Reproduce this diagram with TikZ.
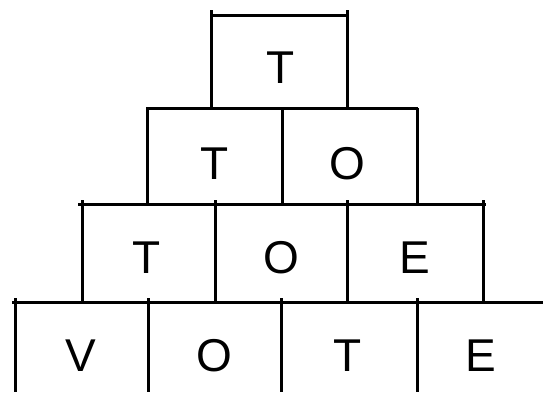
\documentclass[tikz,border=0pt]{standalone}
\usepackage{fontspec}
\setmainfont{Liberation Sans}
\begin{document}
\begin{tikzpicture}[x=1pt,y=-1pt,
  edge/.style={line width=3pt, black},
  letter/.style={font=\fontsize{46}{46}\selectfont, inner sep=0pt, text=black}]
\useasboundingbox (0,0) rectangle (543,392);
% top box
\draw[edge] (211,10) -- (211,108);
\draw[edge] (347,10) -- (347,108);
\draw[edge] (211,15) -- (347,15);
% row 2
\draw[edge] (146,108) -- (418,108);
\foreach \x in {147,282,417} \draw[edge] (\x,108) -- (\x,204);
% row 3
\draw[edge] (78,204) -- (486,204);
\foreach \x in {82,215,347,483} \draw[edge] (\x,200) -- (\x,302);
% row 4
\draw[edge] (12,302) -- (543,302);
\foreach \x in {15,148,281,417} \draw[edge] (\x,298) -- (\x,392);
% letters
\node[letter] (a1) at (281,68) {T};
\node[letter] (b1) at (215,164) {T};
\node[letter] (b2) at (347,164) {O};
\node[letter] (c1) at (147,258) {T};
\node[letter] (c2) at (281,258) {O};
\node[letter] (c3) at (415,258) {E};
\node[letter] (d1) at (81,356) {V};
\node[letter] (d2) at (214.5,356) {O};
\node[letter] (d3) at (348,356) {T};
\node[letter] (d4) at (481,356) {E};
\end{tikzpicture}
\end{document}
